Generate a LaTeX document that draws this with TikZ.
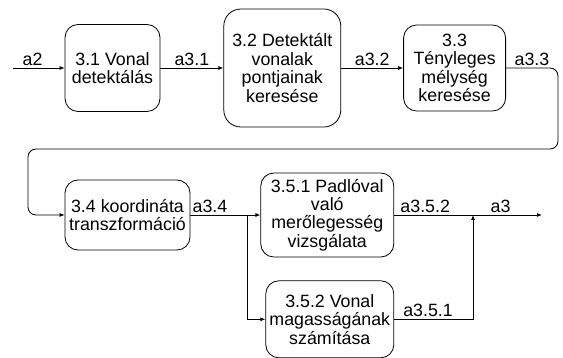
\documentclass[tikz,border=0pt]{standalone}
\usepackage{fontspec}
\setmainfont{Liberation Sans}
\usetikzlibrary{arrows.meta,positioning}
\definecolor{ink}{HTML}{000000}
\tikzset{
  >={Latex[length=5pt,width=4pt]},
  every node/.style={font=\fontsize{17.8}{18.4}\selectfont,text=ink},
  procbox/.style={draw=ink,rounded corners=13pt,fill=white,align=center,inner sep=1pt,line width=0.8pt},
  arrow/.style={->,line width=0.8pt,draw=ink},
  flowlbl/.style={above,inner sep=2pt},
}

\begin{document}
\begin{tikzpicture}[x=1pt,y=-1pt]
\useasboundingbox (0,0) rectangle (563,358);

% upper row
\node[procbox,minimum width=95pt,minimum height=87pt] (p31) at (112.5,68) {3.1 Vonal\\detektálás};
\node[procbox,minimum width=117pt,minimum height=118pt,rounded corners=17pt,right=63pt of p31] (p32) {3.2 Detektált\\vonalak\\pontjainak\\keresése};
\node[procbox,minimum width=102pt,minimum height=86pt,right=62pt of p32] (p33) {3.3\\Tényleges\\mélység\\keresése};

\coordinate (in) at (13,68);
\draw[arrow] (in) -- node[flowlbl,pos=0.38]{a2} (p31.west);
\draw[arrow] (p31.east) -- node[flowlbl]{a3.1} (p31.east -| p32.west);
\draw[arrow] (p32.east) -- node[flowlbl]{a3.2} (p32.east -| p33.west);

% lower row
\node[procbox,minimum width=125pt,minimum height=70pt] (p34) at (127.5,215) {3.4 koordináta\\transzformáció};
\node[procbox,minimum width=133pt,minimum height=84pt,right=70pt of p34] (p351) {3.5.1 Padlóval\\való\\merőlegesség\\vizsgálata};
\node[procbox,minimum width=128pt,minimum height=77pt,below=23pt of p351,xshift=2.5pt] (p352) {3.5.2 Vonal\\magasságának\\számítása};

% loop back to the lower row
\coordinate (turnR) at (558,149);
\coordinate (turnL) at (28,149);
\draw[arrow,rounded corners=8pt] (p33.east) -- node[flowlbl]{a3.3} (p33.east -| turnR) -- (turnR) -- (turnL) |- (p34.west);

\coordinate (split) at (247,215);
\coordinate (join) at (473,215);
\coordinate (out) at (542,215);
\draw[arrow] (p34.east) -- node[flowlbl,pos=0.28]{a3.4} (p351.west);
\draw[arrow] (split) |- (p352.west);
\draw[arrow] (p351.east) -- node[flowlbl,pos=0.21]{a3.5.2} node[flowlbl,pos=0.72]{a3} (out);
\draw[arrow] (p352.east) -- node[flowlbl,pos=0.43]{a3.5.1} (p352.east -| join) -- (join);

\end{tikzpicture}
\end{document}
